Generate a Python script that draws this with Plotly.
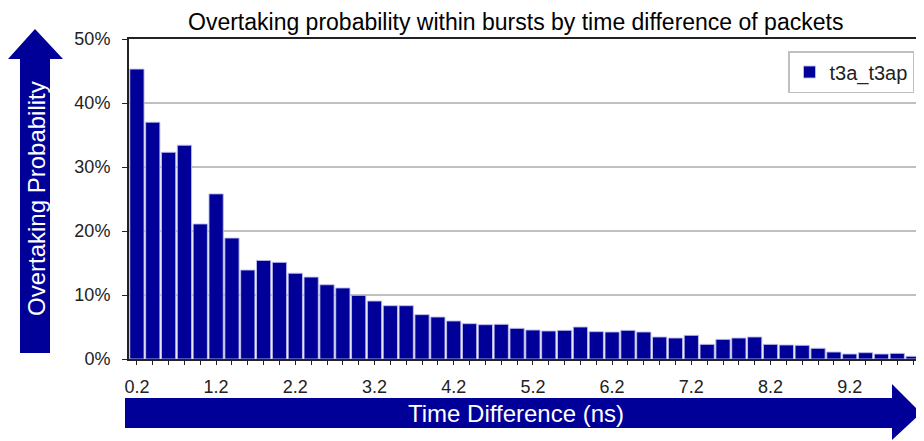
import plotly.graph_objects as go

# ---- data ----
time_diff = [round(0.2 * (i + 1), 1) for i in range(50)]
overtake_pct = [45.3, 37.0, 32.3, 33.4, 21.1, 25.8, 18.9, 13.9, 15.4, 15.1,
                13.4, 12.8, 11.6, 11.1, 9.95, 9.06, 8.33, 8.33, 6.93, 6.56,
                5.94, 5.52, 5.36, 5.42, 4.79, 4.53, 4.38, 4.48, 5.0, 4.27,
                4.22, 4.48, 4.22, 3.44, 3.28, 3.7, 2.29, 3.07, 3.28, 3.44,
                2.29, 2.19, 2.14, 1.67, 1.09, 0.78, 0.99, 0.78, 0.88, 0.42]
overtake = [v / 100 for v in overtake_pct]
series_name = "t3a_t3ap"
tick_labels = [f"{t:.1f}" if i % 5 == 0 else "" for i, t in enumerate(time_diff)]

# page is rendered with an 8px body margin -> figure is 8px smaller, offset by 8
OFF = 8
PAGE_W, PAGE_H = 924, 441
W, H = PAGE_W - OFF, PAGE_H - OFF
# plot area in page pixels
L, R, T, B = 129, 921, 39, 359
BLUE = "#000099"
FONT = "Liberation Sans, Arial, sans-serif"


def px(x):
    return (x - L) / (R - L)


def py(y):
    return (B - y) / (B - T)


fig = go.Figure()
fig.add_trace(go.Bar(
    x=time_diff, y=overtake, name=series_name,
    marker=dict(color=BLUE, line=dict(color="rgba(190,190,235,0.9)", width=1)),
    width=0.18, showlegend=True,
))

# arrows (page pixel positions -> paper coords)
up_arrow = [(20, 353), (20, 59), (8, 59), (35, 29), (63, 59), (50, 59), (50, 353)]
right_arrow = [(125, 398), (892, 398), (892, 384), (921, 413), (892, 440), (892, 428), (125, 428)]


def path(pts):
    return "M " + " L ".join(f"{px(x):.5f},{py(y):.5f}" for x, y in pts) + " Z"


shapes = [
    dict(type="path", xref="paper", yref="paper", path=path(up_arrow),
         fillcolor=BLUE, line=dict(width=0), layer="above"),
    dict(type="path", xref="paper", yref="paper", path=path(right_arrow),
         fillcolor=BLUE, line=dict(width=0), layer="above"),
]

annotations = [
    dict(text="Overtaking Probability", xref="paper", yref="paper",
         x=px(36), y=py(199), textangle=-90, showarrow=False,
         font=dict(family=FONT, size=24, color="white"),
         xanchor="center", yanchor="middle"),
    dict(text="Time Difference (ns)", xref="paper", yref="paper",
         x=px(516), y=py(413), showarrow=False,
         font=dict(family=FONT, size=24, color="white"),
         xanchor="center", yanchor="middle"),
    dict(text="Overtaking probability within bursts by time difference of packets",
         xref="paper", yref="paper", x=px(515), y=py(OFF), showarrow=False,
         font=dict(family=FONT, size=23, color="black"),
         xanchor="center", yanchor="top", borderpad=0),
]

fig.update_layout(
    width=W, height=H,
    margin=dict(l=L - OFF, r=PAGE_W - R, t=T - OFF, b=PAGE_H - B, autoexpand=False),
    paper_bgcolor="white", plot_bgcolor="white",
    font=dict(family=FONT, size=18, color="#222"),
    bargap=0.1,
    shapes=shapes, annotations=annotations,
    legend=dict(x=px(914), y=py(51), xanchor="right", yanchor="top",
                bordercolor="#c0c0c0", borderwidth=1.5, bgcolor="white",
                font=dict(family=FONT, size=20, color="#222"),
                itemwidth=30, tracegroupgap=0),
    xaxis=dict(range=[0.1, 10.1], tickmode="array", tickvals=time_diff,
               ticktext=tick_labels, ticks="outside", ticklen=4, tickcolor="#222",
               tickangle=0, ticklabelstandoff=6,
               tickfont=dict(family=FONT, size=18, color="#222"),
               showline=True, linecolor="#222", linewidth=2, mirror=True,
               showgrid=False, zeroline=False),
    yaxis=dict(range=[0, 0.5], dtick=0.1, tickformat=".0%", ticks="outside",
               ticklen=5, tickcolor="#222", ticklabelstandoff=8,
               tickfont=dict(family=FONT, size=18, color="#222"),
               showline=True, linecolor="#222",
               linewidth=2, mirror=True, showgrid=True, gridcolor="#c0c0c0",
               gridwidth=1.5, zeroline=False),
)

fig.write_html("out.html")
